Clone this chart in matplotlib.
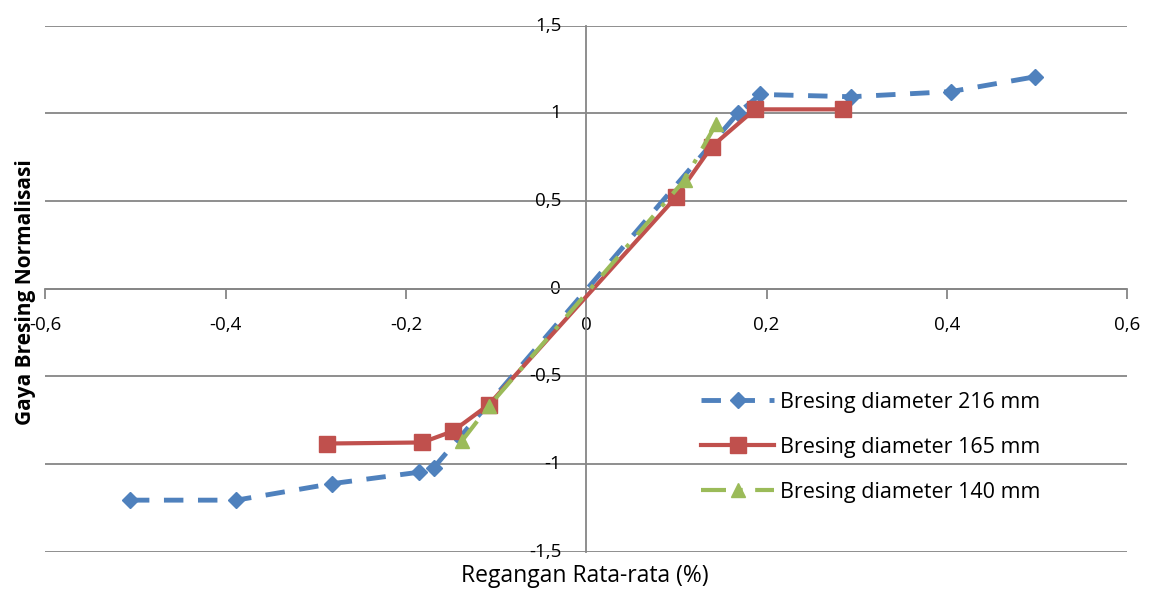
import matplotlib.pyplot as plt
from matplotlib.ticker import FuncFormatter

# --- data ---
x_216 = [-0.506, -0.388, -0.282, -0.186, -0.169, 0.168, 0.193, 0.294, 0.404, 0.498]
y_216 = [-1.206, -1.206, -1.112, -1.047, -1.020, 1.000, 1.108, 1.095, 1.124, 1.209]

x_165 = [-0.288, -0.182, -0.148, -0.108, 0.100, 0.139, 0.187, 0.285]
y_165 = [-0.883, -0.877, -0.813, -0.661, 0.525, 0.810, 1.023, 1.023]

x_140 = [-0.138, -0.108, 0.109, 0.144]
y_140 = [-0.869, -0.670, 0.620, 0.940]

labels = ["Bresing diameter 216 mm", "Bresing diameter 165 mm", "Bresing diameter 140 mm"]
x_ticks = [-0.6, -0.4, -0.2, 0, 0.2, 0.4, 0.6]
y_ticks = [-1.5, -1, -0.5, 0, 0.5, 1, 1.5]

BLUE = "#4F81BD"
RED = "#C0504D"
GREEN = "#9BBB59"
GRID = "#868686"

plt.rcParams["font.family"] = ["Open Sans", "DejaVu Sans"]

fig = plt.figure(figsize=(11.58, 6.08), dpi=100)
ax = fig.add_axes([0.039, 0.0926, 0.9345, 0.8651])

ax.plot(x_216, y_216, color=BLUE, lw=3.5, dashes=(4, 3), marker="D", ms=8,
        mfc=BLUE, mec=BLUE, label=labels[0], zorder=3)
ax.plot(x_165, y_165, color=RED, lw=3, ls="-", marker="s", ms=12,
        mfc=RED, mec=RED, label=labels[1], zorder=4)
ax.plot(x_140, y_140, color=GREEN, lw=3, dashes=(6, 3, 1, 3), marker="^", ms=10,
        mfc=GREEN, mec=GREEN, label=labels[2], zorder=5)

ax.set_xlim(-0.6, 0.6)
ax.set_ylim(-1.5, 1.5)
ax.set_xticks(x_ticks)
ax.set_yticks(y_ticks)

fmt = FuncFormatter(lambda v, p: ("%g" % v).replace(".", ","))
ax.xaxis.set_major_formatter(fmt)
ax.yaxis.set_major_formatter(fmt)

for y in y_ticks:
    ax.axhline(y, color=GRID, lw=1.3, zorder=1)

ax.spines["left"].set_position(("data", 0))
ax.spines["bottom"].set_position(("data", 0))
ax.spines["top"].set_visible(False)
ax.spines["right"].set_visible(False)
ax.spines["left"].set_color(GRID)
ax.spines["bottom"].set_color(GRID)
ax.spines["left"].set_linewidth(1.3)
ax.spines["bottom"].set_linewidth(1.3)

ax.tick_params(axis="x", direction="out", length=7, width=1.3, color=GRID,
               labelsize=13.5, pad=13)
ax.tick_params(axis="y", length=0, labelsize=13.5, pad=18)
for t in ax.get_yticklabels():
    t.set_verticalalignment("center")

fig.text(0.022, 0.52, "Gaya Bresing Normalisasi", rotation=90, ha="center", va="center",
         fontsize=15, fontweight="bold")
fig.text(0.505, 0.052, "Regangan Rata-rata (%)", ha="center", va="center", fontsize=16.5)

ax.legend(loc="upper left", bbox_to_anchor=(701 / 1158, 1 - 392 / 608),
          bbox_transform=fig.transFigure, frameon=False, fontsize=15.5,
          handlelength=3.4, handletextpad=0.25, labelspacing=1.11,
          borderpad=0, borderaxespad=0)

fig.savefig("out.png", dpi=100)
